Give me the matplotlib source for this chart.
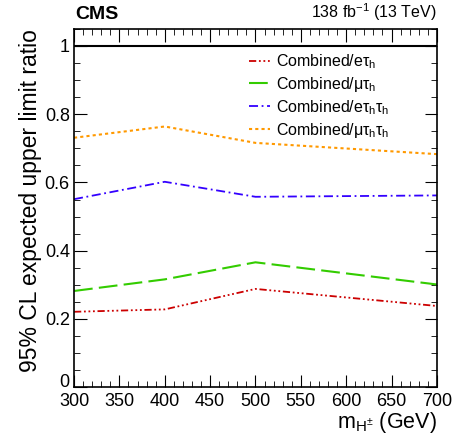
import numpy as np
import matplotlib.pyplot as plt
import matplotlib.transforms as mtransforms
from matplotlib.ticker import MultipleLocator

plt.rcParams['font.family'] = ['Liberation Sans', 'DejaVu Sans']
plt.rcParams['mathtext.fontset'] = 'custom'
plt.rcParams['mathtext.rm'] = 'Liberation Sans'
plt.rcParams['mathtext.it'] = 'Liberation Sans'

# data
mass = [300, 400, 500, 700]
r_etau = [0.221, 0.228, 0.288, 0.238]
r_mutau = [0.282, 0.316, 0.366, 0.301]
r_etautau = [0.551, 0.602, 0.558, 0.562]
r_mutautau = [0.731, 0.764, 0.716, 0.683]

fig = plt.figure(figsize=(4.57, 4.38), dpi=100)
ax = fig.add_axes([0.162, 0.116, 0.794, 0.818])

ax.axhline(1.0, color='black', lw=1.5)
ax.plot(mass, r_etau, color='#cc0000', lw=1.3, ls=(0, (4, 1.5, 1, 1.5, 1, 1.5, 1, 1.5)),
        label=r'Combined/e$\tau_{\rm h}$')
ax.plot(mass, r_mutau, color='#33cc00', lw=1.5, ls=(0, (9, 3)),
        label=r'Combined/$\mu\tau_{\rm h}$')
ax.plot(mass, r_etautau, color='#3300ff', lw=1.3, ls=(0, (5, 2, 1, 2)),
        label=r'Combined/e$\tau_{\rm h}\tau_{\rm h}$')
ax.plot(mass, r_mutautau, color='#ff9900', lw=1.5, ls=(0, (1.5, 1.5)),
        label=r'Combined/$\mu\tau_{\rm h}\tau_{\rm h}$')

ax.set_xlim(300, 700)
ax.set_ylim(0, 1.05)
ax.xaxis.set_major_locator(MultipleLocator(50))
ax.xaxis.set_minor_locator(MultipleLocator(10))
ax.yaxis.set_major_locator(MultipleLocator(0.2))
ax.yaxis.set_minor_locator(MultipleLocator(0.05))
ax.tick_params(which='both', direction='in', top=True, right=True, labelsize=13)
ax.tick_params(which='major', length=9)
ax.tick_params(which='minor', length=4.5)
ax.tick_params(axis='x', pad=4)
ax.tick_params(axis='y', pad=3)
ax.set_yticks([0, 0.2, 0.4, 0.6, 0.8, 1.0])
ax.set_yticklabels(['0', '0.2', '0.4', '0.6', '0.8', '1'])
for s in ax.spines.values():
    s.set_linewidth(1.2)

# lift the "0" a bit so it does not sit on top of "300"
lbl0 = ax.yaxis.get_major_ticks()[0].label1
lbl0.set_transform(lbl0.get_transform() + mtransforms.ScaledTranslation(0, 5 / 72, fig.dpi_scale_trans))

ax.set_ylabel('95% CL expected upper limit ratio', fontsize=16.5, loc='top', labelpad=2)
ax.set_xlabel(r'm$_{\rm H^{\pm}}$ (GeV)', fontsize=15.5, loc='right', labelpad=0)

fig.text(0.164, 0.948, 'CMS', fontsize=14, fontweight='bold', ha='left', va='bottom')
fig.text(0.956, 0.948, r'138 fb$^{-1}$ (13 TeV)', fontsize=11.5, ha='right', va='bottom')

ax.legend(loc='upper right', bbox_to_anchor=(0.91, 0.975), frameon=False, fontsize=11.5,
          handlelength=1.3, handletextpad=0.4, labelspacing=0.25)

fig.savefig('out.png', dpi=100)
